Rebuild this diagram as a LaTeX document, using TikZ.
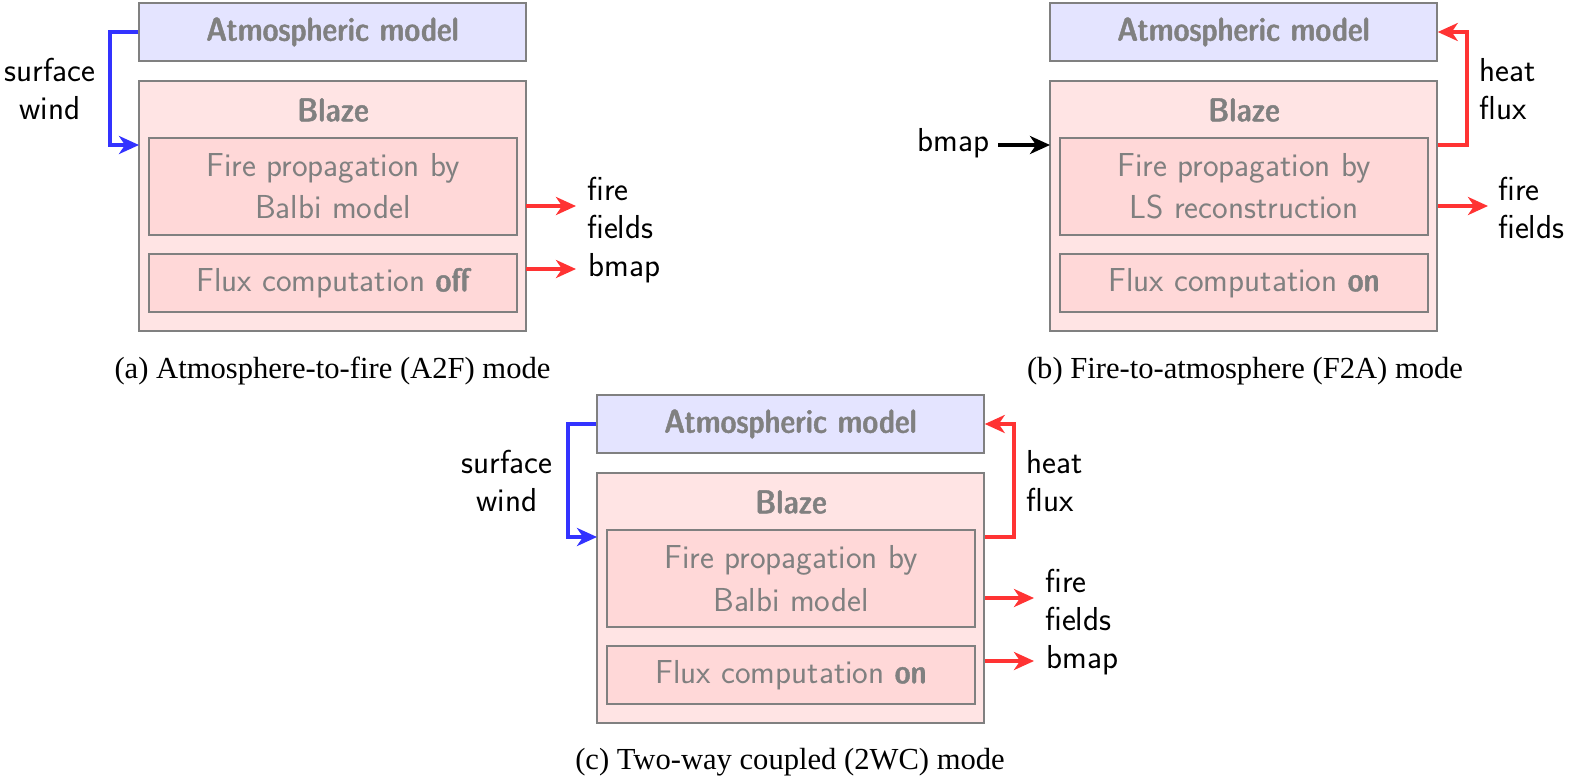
\documentclass[tikz,border=0pt]{standalone}
\usepackage{fontspec}
\setsansfont{Latin Modern Sans}
\newfontfamily\demicond{Latin Modern Sans Demi Cond}[AutoFakeBold=1.3]
\newfontfamily\capfont{Liberation Serif}
\usetikzlibrary{arrows.meta}
\definecolor{boxgray}{RGB}{128,128,128}
\definecolor{arrblue}{RGB}{51,51,255}
\definecolor{arrred}{RGB}{255,51,51}
\definecolor{atmfill}{RGB}{228,228,255}
\definecolor{blazefill}{RGB}{255,228,228}
\definecolor{subfill}{RGB}{255,216,216}
\newcommand{\bsf}[1]{{\demicond\bfseries #1}}
\tikzset{
  x=0.5pt, y=-0.5pt,
  every node/.style={font=\sffamily\fontsize{16.6}{18.7}\selectfont, inner sep=0pt},
  boxbase/.style={draw=boxgray, line width=0.75pt, text=boxgray, align=center},
  atmbox/.style={boxbase, fill=atmfill, minimum width=193.5pt, minimum height=29pt, font=\demicond\bfseries\fontsize{16.6}{19}\selectfont},
  blazebox/.style={boxbase, fill=blazefill, minimum width=193.5pt, minimum height=125pt},
  subbox/.style={boxbase, fill=subfill, minimum width=184pt, font=\sffamily\fontsize{16.6}{21.1}\selectfont},
  titletext/.style={text=boxgray, font=\demicond\bfseries\fontsize{16.6}{19}\selectfont},
  lbl/.style={align=center, text=black},
  lbll/.style={align=left, text=black},
  arr/.style={line width=2pt, -{Stealth[length=10pt, width=9pt, inset=3pt]}},
  capt/.style={font=\capfont\fontsize{15.3}{18}\selectfont}
}
\begin{document}
\begin{tikzpicture}
\useasboundingbox (0,0) rectangle (1569,778);
% ---------------- (a)
\node[blazebox] (blzA) at (332.5,206) {};
\node[atmbox] (atmA) at (332.5,32) {Atmospheric model};
\node[titletext] (ttlA) at (333,110) {Blaze};
\node[subbox, minimum height=48.5pt] (fireA) at (333,186.5) {Fire propagation by\\Balbi model};
\node[subbox, minimum height=29pt] (fluxA) at (333,283) {Flux computation \bsf{off}};
\coordinate (wA) at (139,145);
\draw[arr, draw=arrblue] (atmA.west) -| (110,145) -- (wA);
\node[lbl] (swA) at (50,89) {surface\\wind};
\node[lbll, anchor=west] (ffA) at (587,208) {fire\\fields};
\node[lbll, anchor=west] (bmA) at (588,268) {bmap};
\coordinate (fA0) at (526,206);
\coordinate (fA1) at (576,206);
\draw[arr, draw=arrred] (fA0) -- (fA1);
\coordinate (bA0) at (526,269);
\coordinate (bA1) at (576,269);
\draw[arr, draw=arrred] (bA0) -- (bA1);
\node[capt] (capA) at (332.5,371) {(a) Atmosphere-to-fire (A2F) mode};
% ---------------- (b)
\node[blazebox] (blzB) at (1243.5,206) {};
\node[atmbox] (atmB) at (1243.5,32) {Atmospheric model};
\node[titletext] (ttlB) at (1244,110) {Blaze};
\node[subbox, minimum height=48.5pt] (fireB) at (1244,186.5) {Fire propagation by\\LS reconstruction};
\node[subbox, minimum height=29pt] (fluxB) at (1244,283) {Flux computation \bsf{on}};
\coordinate (hB) at (1438,145);
\draw[arr, draw=arrred] (hB) -- (1467,145) |- (atmB.east);
\node[lbll, anchor=west] (hfB) at (1479,89) {heat\\flux};
\node[lbll, anchor=east] (bmB) at (990,143) {bmap};
\coordinate (bB0) at (998,145);
\coordinate (bB) at (1050,145);
\draw[arr, draw=black] (bB0) -- (bB);
\node[lbll, anchor=west] (ffB) at (1498,208) {fire\\fields};
\coordinate (fB0) at (1438,206);
\coordinate (fB1) at (1488,206);
\draw[arr, draw=arrred] (fB0) -- (fB1);
\node[capt] (capB) at (1245,371) {(b) Fire-to-atmosphere (F2A) mode};
% ---------------- (c)
\node[blazebox] (blzC) at (790.5,598) {};
\node[atmbox] (atmC) at (790.5,424) {Atmospheric model};
\node[titletext] (ttlC) at (791,502) {Blaze};
\node[subbox, minimum height=48.5pt] (fireC) at (791,578.5) {Fire propagation by\\Balbi model};
\node[subbox, minimum height=29pt] (fluxC) at (791,675) {Flux computation \bsf{on}};
\coordinate (wC) at (597,537);
\draw[arr, draw=arrblue] (atmC.west) -| (568,537) -- (wC);
\node[lbl] (swC) at (507,481) {surface\\wind};
\coordinate (hC) at (985,537);
\draw[arr, draw=arrred] (hC) -- (1014,537) |- (atmC.east);
\node[lbll, anchor=west] (hfC) at (1026,481) {heat\\flux};
\node[lbll, anchor=west] (ffC) at (1045,600) {fire\\fields};
\node[lbll, anchor=west] (bmC) at (1046,660) {bmap};
\coordinate (fC0) at (985,598);
\coordinate (fC1) at (1034,598);
\draw[arr, draw=arrred] (fC0) -- (fC1);
\coordinate (bC0) at (985,661);
\coordinate (bC1) at (1034,661);
\draw[arr, draw=arrred] (bC0) -- (bC1);
\node[capt] (capC) at (790,762) {(c) Two-way coupled (2WC) mode};
\end{tikzpicture}
\end{document}
